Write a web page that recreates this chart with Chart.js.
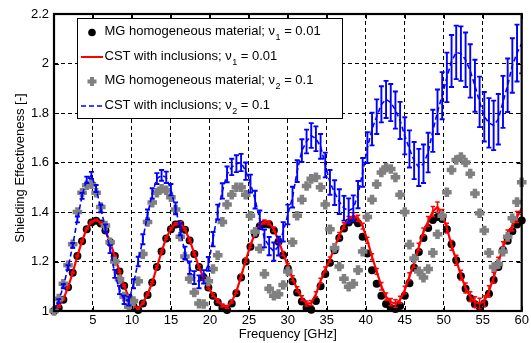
<!DOCTYPE html>
<html><head><meta charset="utf-8">
<script src="https://cdn.jsdelivr.net/npm/chart.js@4"></script>
<style>html,body{margin:0;padding:0;background:#fff}canvas{display:block}</style>
</head><body>
<canvas id="c" width="531" height="343"></canvas>
<script>
// ---------- data ----------
const freqGHz = [
0,0.6,1.2,1.8,2.4,3,3.6,4.2,4.8,5.4,
6,6.6,7.2,7.8,8.4,9,9.6,10.2,10.8,11.4,
12,12.6,13.2,13.8,14.4,15,15.6,16.2,16.8,17.4,
18,18.6,19.2,19.8,20.4,21,21.6,22.2,22.8,23.4,
24,24.6,25.2,25.8,26.4,27,27.6,28.2,28.8,29.4,
30,30.6,31.2,31.8,32.4,33,33.6,34.2,34.8,35.4,
36,36.6,37.2,37.8,38.4,39,39.6,40.2,40.8,41.4,
42,42.6,43.2,43.8,44.4,45,45.6,46.2,46.8,47.4,
48,48.6,49.2,49.8,50.4,51,51.6,52.2,52.8,53.4,
54,54.6,55.2,55.8,56.4,57,57.6,58.2,58.8,59.4,
60];

// MG homogeneous material, v1 = 0.01
const mgV1 = [
1.000,1.012,1.045,1.096,1.155,1.222,1.282,1.330,1.358,1.365,
1.354,1.325,1.278,1.222,1.160,1.102,1.054,1.018,1.004,1.030,
1.065,1.115,1.178,1.240,1.293,1.330,1.350,1.352,1.328,1.285,
1.230,1.178,1.135,1.095,1.062,1.035,1.012,1.004,1.030,1.072,
1.135,1.200,1.260,1.310,1.342,1.352,1.350,1.325,1.280,1.225,
1.172,1.120,1.075,1.038,1.012,1.005,1.040,1.100,1.150,1.195,
1.245,1.295,1.333,1.358,1.370,1.355,1.300,1.232,1.165,1.110,
1.062,1.028,1.012,1.008,1.020,1.062,1.112,1.175,1.238,1.295,
1.335,1.368,1.380,1.372,1.330,1.270,1.205,1.140,1.090,1.052,
1.027,1.017,1.030,1.070,1.125,1.178,1.246,1.284,1.322,1.350,
1.366];

// CST with inclusions, v1 = 0.01 (mean and +/- error)
const cstV1 = [
1.005,1.018,1.048,1.095,1.155,1.222,1.283,1.332,1.360,1.368,
1.356,1.325,1.278,1.222,1.160,1.102,1.054,1.020,1.010,1.032,
1.068,1.115,1.178,1.240,1.295,1.332,1.352,1.356,1.330,1.287,
1.232,1.178,1.132,1.095,1.065,1.040,1.022,1.016,1.038,1.078,
1.140,1.205,1.265,1.315,1.346,1.360,1.356,1.330,1.285,1.232,
1.182,1.132,1.088,1.052,1.030,1.032,1.068,1.122,1.168,1.208,
1.258,1.305,1.345,1.370,1.385,1.375,1.343,1.286,1.219,1.160,
1.100,1.058,1.036,1.030,1.045,1.085,1.140,1.192,1.259,1.320,
1.362,1.402,1.420,1.390,1.335,1.265,1.205,1.145,1.093,1.058,
1.036,1.030,1.040,1.080,1.135,1.195,1.258,1.305,1.345,1.380,
1.415];
const cstV1Err = [
0.003,0.003,0.003,0.003,0.003,0.003,0.003,0.003,0.003,0.003,
0.004,0.004,0.004,0.004,0.004,0.004,0.004,0.004,0.004,0.004,
0.005,0.005,0.005,0.005,0.005,0.005,0.005,0.005,0.005,0.005,
0.006,0.006,0.006,0.006,0.006,0.006,0.006,0.006,0.006,0.006,
0.008,0.008,0.008,0.008,0.008,0.008,0.008,0.008,0.008,0.008,
0.010,0.010,0.010,0.010,0.010,0.010,0.010,0.010,0.010,0.010,
0.012,0.012,0.012,0.012,0.012,0.012,0.012,0.012,0.012,0.012,
0.015,0.015,0.015,0.015,0.015,0.015,0.015,0.015,0.015,0.015,
0.020,0.020,0.020,0.020,0.020,0.020,0.020,0.020,0.020,0.020,
0.022,0.022,0.022,0.022,0.022,0.022,0.022,0.022,0.022,0.022,
0.025];

// MG homogeneous material, v2 = 0.1
const mgV2 = [
1.000,1.050,1.110,1.185,1.270,1.400,1.478,1.508,1.512,1.478,
1.420,1.345,1.278,1.200,1.128,1.058,1.017,1.040,1.120,1.230,
1.360,1.438,1.478,1.494,1.488,1.460,1.410,1.300,1.220,1.130,
1.075,1.030,1.028,1.120,1.170,1.225,1.360,1.430,1.470,1.500,
1.500,1.470,1.385,1.320,1.252,1.150,1.090,1.062,1.068,1.105,
1.160,1.278,1.385,1.450,1.505,1.534,1.540,1.500,1.430,1.330,
1.255,1.180,1.130,1.098,1.110,1.165,1.240,1.380,1.450,1.512,
1.560,1.580,1.574,1.540,1.470,1.400,1.268,1.212,1.160,1.135,
1.170,1.235,1.310,1.385,1.480,1.570,1.610,1.622,1.600,1.555,
1.475,1.395,1.325,1.235,1.178,1.190,1.240,1.300,1.375,1.440,
1.520];

// CST with inclusions, v2 = 0.1 (mean and +/- error)
const cstV2 = [
1.005,1.040,1.100,1.175,1.265,1.370,1.465,1.530,1.548,1.495,
1.414,1.335,1.250,1.150,1.085,1.045,1.040,1.110,1.200,1.290,
1.390,1.475,1.535,1.548,1.540,1.490,1.415,1.330,1.235,1.175,
1.135,1.118,1.138,1.190,1.290,1.400,1.485,1.552,1.582,1.595,
1.600,1.565,1.515,1.450,1.370,1.293,1.262,1.240,1.262,1.320,
1.390,1.460,1.565,1.648,1.685,1.709,1.696,1.665,1.590,1.520,
1.478,1.442,1.415,1.405,1.415,1.470,1.560,1.660,1.735,1.785,
1.835,1.855,1.842,1.812,1.770,1.708,1.655,1.608,1.580,1.595,
1.640,1.728,1.805,1.870,1.944,2.010,2.045,2.040,2.015,1.970,
1.910,1.845,1.785,1.760,1.750,1.775,1.845,1.912,1.992,2.042,
2.080];
const cstV2Err = [
0.006,0.008,0.008,0.010,0.010,0.012,0.012,0.013,0.014,0.014,
0.015,0.015,0.016,0.016,0.017,0.017,0.018,0.018,0.019,0.020,
0.020,0.021,0.022,0.022,0.023,0.023,0.024,0.024,0.025,0.025,
0.026,0.026,0.027,0.028,0.029,0.030,0.031,0.032,0.033,0.034,
0.035,0.035,0.036,0.036,0.036,0.036,0.037,0.037,0.038,0.039,
0.040,0.042,0.044,0.046,0.048,0.050,0.050,0.050,0.050,0.050,
0.050,0.050,0.050,0.050,0.052,0.055,0.058,0.062,0.066,0.070,
0.073,0.075,0.075,0.075,0.075,0.075,0.075,0.075,0.075,0.078,
0.080,0.085,0.090,0.095,0.100,0.105,0.108,0.110,0.110,0.108,
0.105,0.102,0.100,0.100,0.100,0.102,0.105,0.108,0.110,0.115,
0.120];

const xTickValues = [0,5,10,15,20,25,30,35,40,45,50,55,60];
const xTickLabels = ['','5','10','15','20','25','30','35','40','45','50','55','60'];
const yTickValues = [1,1.2,1.4,1.6,1.8,2,2.2];
const yTickLabels = ['1','1.2','1.4','1.6','1.8','2','2.2'];

const seriesNames = ['MG homogeneous material; \u03bd', 'CST with inclusions; \u03bd', 'MG homogeneous material; \u03bd', 'CST with inclusions; \u03bd'];
const seriesSubs  = ['1','1','2','2'];
const seriesTails = [' = 0.01',' = 0.01',' = 0.1',' = 0.1'];
const xTitle = 'Frequency [GHz]';
const yTitle = 'Shielding Effectiveness [-]';

// ---------- rendering ----------
const FONT = '"Liberation Sans", Arial, Helvetica, sans-serif';
const pts = ys => freqGHz.map((f, i) => ({x: f, y: ys[i]}));

const errorBars = {
  id: 'errorBars',
  afterDatasetDraw(chart, args) {
    const ds = chart.data.datasets[args.index];
    if (!ds.errors) return;
    const ctx = chart.ctx, xs = chart.scales.x, ys = chart.scales.y, a = chart.chartArea;
    ctx.save();
    ctx.beginPath(); ctx.rect(a.left, a.top, a.right - a.left, a.bottom - a.top); ctx.clip();
    ctx.strokeStyle = ds.errorColor; ctx.lineWidth = ds.errorWidth; ctx.setLineDash([]);
    const cap = ds.errorCap;
    ctx.beginPath();
    ds.data.forEach((p, i) => {
      const e = ds.errors[i];
      const px = xs.getPixelForValue(p.x);
      const y1 = ys.getPixelForValue(p.y - e), y2 = ys.getPixelForValue(p.y + e);
      ctx.moveTo(px, y1); ctx.lineTo(px, y2);
      ctx.moveTo(px - cap, y1); ctx.lineTo(px + cap, y1);
      ctx.moveTo(px - cap, y2); ctx.lineTo(px + cap, y2);
    });
    ctx.stroke();
    ctx.restore();
  }
};

const frameAndLegend = {
  id: 'frameAndLegend',
  afterDraw(chart) {
    const ctx = chart.ctx, a = chart.chartArea, xs = chart.scales.x, ys = chart.scales.y;
    ctx.save();
    // inward ticks
    ctx.strokeStyle = '#000'; ctx.lineWidth = 1; ctx.setLineDash([]);
    ctx.beginPath();
    xTickValues.forEach(v => {
      const px = Math.round(xs.getPixelForValue(v)) + 0.5;
      ctx.moveTo(px, a.bottom); ctx.lineTo(px, a.bottom - 5);
      ctx.moveTo(px, a.top); ctx.lineTo(px, a.top + 5);
    });
    yTickValues.forEach(v => {
      const py = Math.round(ys.getPixelForValue(v)) + 0.5;
      ctx.moveTo(a.left, py); ctx.lineTo(a.left + 5, py);
      ctx.moveTo(a.right, py); ctx.lineTo(a.right - 5, py);
    });
    ctx.stroke();
    // frame
    ctx.lineWidth = 2.2;
    ctx.strokeRect(a.left, a.top, a.right - a.left, a.bottom - a.top);

    // axis titles
    ctx.fillStyle = '#000';
    ctx.font = '13px ' + FONT;
    ctx.textAlign = 'center'; ctx.textBaseline = 'middle';
    ctx.fillText(xTitle, (a.left + a.right) / 2, 334);
    ctx.save();
    ctx.translate(20, 168); ctx.rotate(-Math.PI / 2);
    ctx.fillText(yTitle, 0, 0);
    ctx.restore();

    // legend box
    const bx = 77, by = 18, bw = 265, bh = 100;
    ctx.fillStyle = '#fff'; ctx.fillRect(bx, by, bw, bh);
    ctx.strokeStyle = '#000'; ctx.lineWidth = 1;
    ctx.strokeRect(bx + 0.5, by + 0.5, bw, bh);
    const base = [35, 59.5, 84, 108.5];
    const my = [32.5, 57, 81.5, 106];
    // markers
    ctx.fillStyle = '#000';
    ctx.beginPath(); ctx.arc(92, my[0], 3.8, 0, Math.PI * 2); ctx.fill();
    ctx.strokeStyle = '#ff0000'; ctx.lineWidth = 2;
    ctx.beginPath(); ctx.moveTo(81, my[1]); ctx.lineTo(103, my[1]); ctx.stroke();
    ctx.strokeStyle = '#808080'; ctx.lineWidth = 4;
    ctx.beginPath();
    ctx.moveTo(92 - 4.5, my[2]); ctx.lineTo(92 + 4.5, my[2]);
    ctx.moveTo(92, my[2] - 4.5); ctx.lineTo(92, my[2] + 4.5);
    ctx.stroke();
    ctx.strokeStyle = '#0000ff'; ctx.lineWidth = 1.5; ctx.setLineDash([5, 3]);
    ctx.beginPath(); ctx.moveTo(81, my[3]); ctx.lineTo(103, my[3]); ctx.stroke();
    ctx.setLineDash([]);
    // texts
    ctx.fillStyle = '#000'; ctx.textAlign = 'left'; ctx.textBaseline = 'alphabetic';
    for (let i = 0; i < 4; i++) {
      let x = 104.5;
      ctx.font = '13px ' + FONT;
      ctx.fillText(seriesNames[i], x, base[i]);
      x += ctx.measureText(seriesNames[i]).width;
      ctx.font = '9px ' + FONT;
      ctx.fillText(seriesSubs[i], x + 0.5, base[i] + 5);
      x += ctx.measureText(seriesSubs[i]).width + 0.5;
      ctx.font = '13px ' + FONT;
      ctx.fillText(seriesTails[i], x, base[i]);
    }
    ctx.restore();
  }
};

new Chart(document.getElementById('c'), {
  type: 'scatter',
  data: {
    datasets: [
      { label: 'MG v1', data: pts(mgV1), showLine: false, order: 3, clip: false,
        pointRadius: 4, pointBackgroundColor: '#000', pointBorderWidth: 0, pointHoverRadius: 4 },
      { label: 'CST v1', data: pts(cstV1), showLine: true, order: 2, clip: false,
        borderColor: '#ff0000', borderWidth: 2.2, pointRadius: 0, tension: 0,
        errors: cstV1Err, errorColor: '#ff0000', errorWidth: 1.5, errorCap: 2.2 },
      { label: 'MG v2', data: pts(mgV2), showLine: false, order: 1, clip: false,
        pointStyle: 'cross', pointRadius: 4.8, pointBorderWidth: 4.5, pointBorderColor: '#808080', pointBackgroundColor: '#808080' },
      { label: 'CST v2', data: pts(cstV2), showLine: true, order: 0, clip: false,
        borderColor: '#0000ff', borderWidth: 1.6, borderDash: [5, 3], pointRadius: 0, tension: 0,
        errors: cstV2Err, errorColor: '#0000ff', errorWidth: 1.9, errorCap: 2.5 }
    ]
  },
  options: {
    responsive: false, animation: false, devicePixelRatio: 1, events: [],
    layout: { padding: { left: 0, right: 9, top: 14, bottom: 0 } },
    plugins: { legend: { display: false }, tooltip: { enabled: false } },
    scales: {
      x: {
        type: 'linear', min: 0, max: 60,
        afterBuildTicks: s => { s.ticks = xTickValues.map(v => ({ value: v })); },
        afterFit: s => { s.height = 32; },
        ticks: { callback: (v, i) => xTickLabels[i], color: '#000', padding: 2, maxRotation: 0, autoSkip: false,
                 font: { family: FONT, size: 13 } },
        grid: { color: '#000', lineWidth: 1, drawTicks: false },
        border: { display: false, dash: [4, 3] }
      },
      y: {
        type: 'linear', min: 1, max: 2.2,
        afterBuildTicks: s => { s.ticks = yTickValues.map(v => ({ value: v })); },
        afterFit: s => { s.width = 54; },
        ticks: { callback: (v, i) => yTickLabels[i], color: '#000', padding: 5, autoSkip: false,
                 font: { family: FONT, size: 13 } },
        grid: { color: '#000', lineWidth: 1, drawTicks: false },
        border: { display: false, dash: [4, 3] }
      }
    }
  },
  plugins: [errorBars, frameAndLegend]
});
</script>
</body></html>
